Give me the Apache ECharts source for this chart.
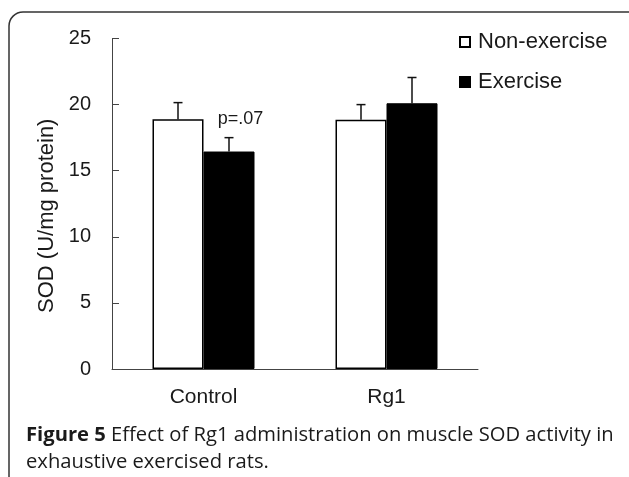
<!DOCTYPE html>
<html>
<head>
<meta charset="utf-8">
<script src="https://cdn.jsdelivr.net/npm/echarts@6/dist/echarts.min.js"></script>
<style>
  html, body { margin: 0; padding: 0; background: #fff; }
  #main { width: 629px; height: 477px; }
</style>
</head>
<body>
<div id="main"></div>
<script>
// data
var groups = ["Control", "Rg1"];
var nonExercise = [18.9, 18.85];
var nonExerciseErr = [1.25, 1.15];
var exercise = [16.45, 20.1];
var exerciseErr = [1.05, 1.95];
var yTicks = [0, 5, 10, 15, 20, 25];

var chart = echarts.init(document.getElementById("main"));
var barW = 51;

function errorSeries(name, vals, errs, side) {
  var data = [];
  for (var i = 0; i < vals.length; i++) data.push([i, vals[i], errs[i]]);
  return {
    type: "custom",
    name: name + " err",
    silent: true,
    z: 1,
    data: data,
    renderItem: function (params, api) {
      var base = api.coord([api.value(0), api.value(1)]);
      var top = api.coord([api.value(0), api.value(1) + api.value(2)]);
      var x = base[0] + side * barW / 2;
      var style = { stroke: "#111", lineWidth: 1.5 };
      return {
        type: "group",
        children: [
          { type: "line", shape: { x1: x, y1: base[1], x2: x, y2: top[1] }, style: style },
          { type: "line", shape: { x1: x - 4.5, y1: top[1], x2: x + 4.5, y2: top[1] }, style: style }
        ]
      };
    }
  };
}

var option = {
  animation: false,
  backgroundColor: "#fff",
  textStyle: { fontFamily: "Liberation Sans, Arial, sans-serif", color: "#1a1a1a" },
  grid: { left: 112, right: 151, top: 38.5, bottom: 108 },
  legend: {
    orient: "vertical",
    left: 459,
    top: 29,
    padding: 0,
    itemWidth: 10,
    itemHeight: 10,
    itemGap: 14,
    icon: "rect",
    data: ["Non-exercise", "Exercise"],
    textStyle: { fontSize: 22, color: "#1a1a1a", lineHeight: 26, padding: [0, 0, 0, 3] }
  },
  xAxis: {
    type: "category",
    data: groups,
    axisLine: { lineStyle: { color: "#444", width: 1 } },
    axisTick: { inside: true, length: 7, lineStyle: { color: "#444" } },
    axisLabel: { fontSize: 21, color: "#1a1a1a", margin: 18 }
  },
  yAxis: {
    type: "value",
    min: yTicks[0],
    max: yTicks[yTicks.length - 1],
    interval: 5,
    name: "SOD (U/mg protein)",
    nameLocation: "middle",
    nameGap: 53,
    nameRotate: 90,
    nameTextStyle: { fontSize: 22, color: "#1a1a1a", padding: [0, 24, 0, 0] },
    splitLine: { show: false },
    axisLine: { show: true, lineStyle: { color: "#444", width: 1 } },
    axisTick: { show: true, inside: true, length: 7, lineStyle: { color: "#444" } },
    axisLabel: { fontSize: 20, color: "#1a1a1a", margin: 21 }
  },
  series: [
    {
      name: "Non-exercise",
      type: "bar",
      data: nonExercise,
      barWidth: barW,
      barGap: "0%",
      z: 2,
      itemStyle: { color: "#fff", borderColor: "#000", borderWidth: 1.5 }
    },
    {
      name: "Exercise",
      type: "bar",
      data: exercise,
      barWidth: barW,
      barGap: "0%",
      z: 2,
      itemStyle: { color: "#000", borderColor: "#000", borderWidth: 1 }
    },
    errorSeries("Non-exercise", nonExercise, nonExerciseErr, -1),
    errorSeries("Exercise", exercise, exerciseErr, 1)
  ]
};
chart.setOption(option);

// annotation + caption + frame
var pPos = chart.convertToPixel({ gridIndex: 0 }, ["Control", 18.9]);
chart.setOption({
  graphic: [
    {
      type: "rect",
      shape: { x: 9, y: 12, width: 640, height: 500, r: 14 },
      style: { fill: null, stroke: "#333", lineWidth: 1.5 },
      silent: true
    },
    {
      type: "text",
      x: pPos[0] + 37,
      y: pPos[1],
      style: {
        text: "p=.07",
        fontSize: 18,
        fontFamily: "Liberation Sans, Arial, sans-serif",
        fill: "#1a1a1a",
        align: "center",
        verticalAlign: "middle"
      }
    },
    {
      type: "text",
      left: 26,
      top: 422,
      style: {
        text: "{b|Figure 5} Effect of Rg1 administration on muscle SOD activity in\nexhaustive exercised rats.",
        fontFamily: "Open Sans, sans-serif",
        fontSize: 20.2,
        lineHeight: 27,
        fill: "#1a1a1a",
        rich: {
          b: { fontFamily: "Open Sans, sans-serif", fontSize: 20.2, fontWeight: "bold", fill: "#1a1a1a", lineHeight: 27 }
        }
      }
    }
  ]
});
</script>
</body>
</html>
